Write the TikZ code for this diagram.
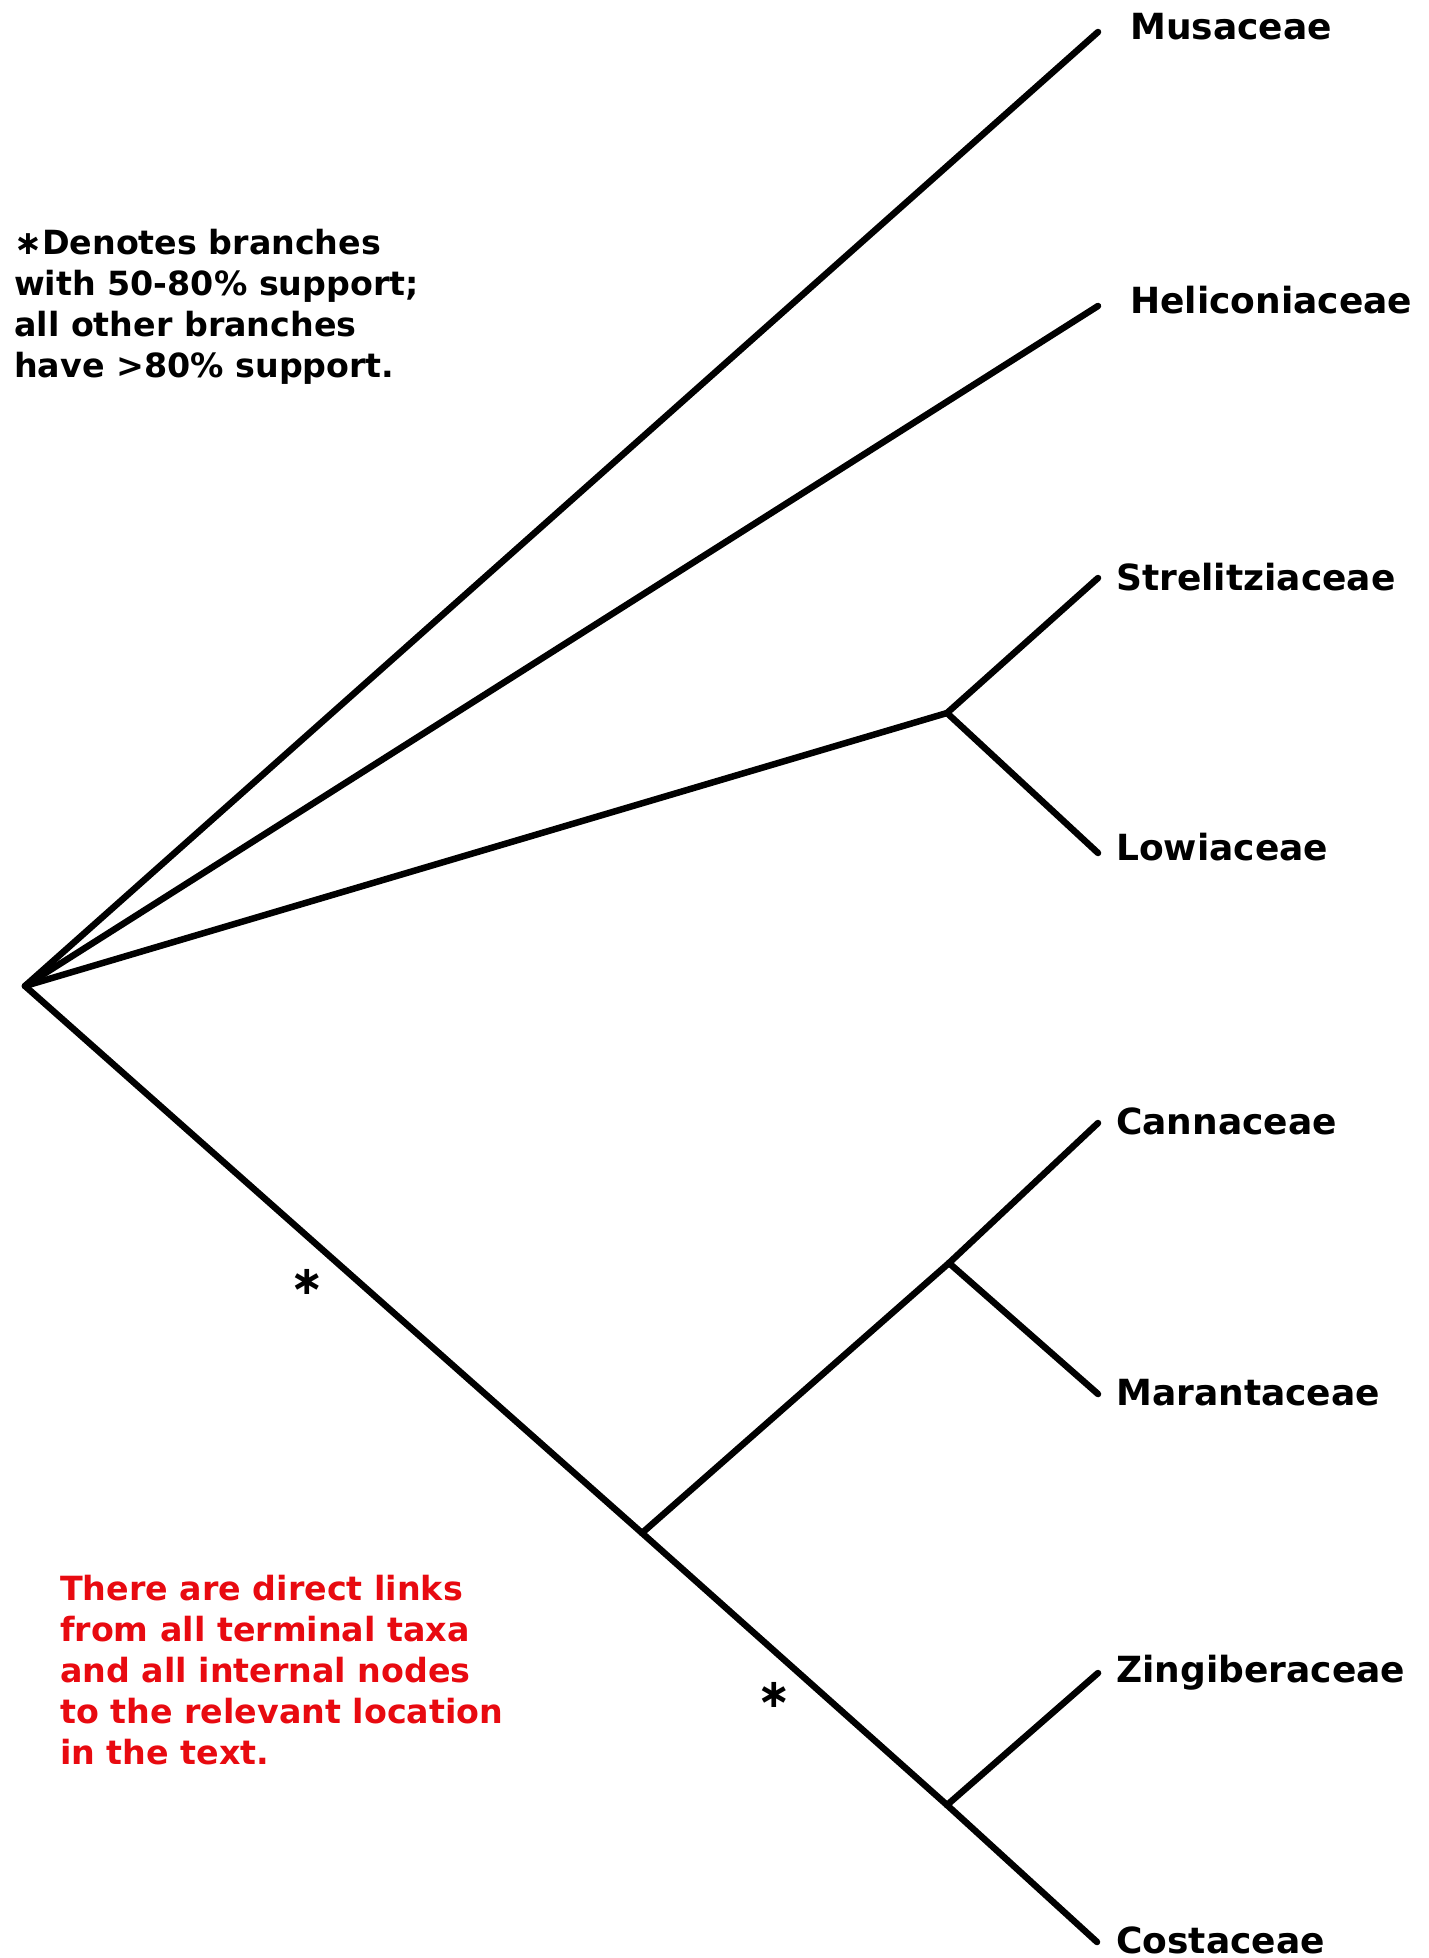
\documentclass[tikz,border=0pt]{standalone}
\usepackage{fontspec}
\setmainfont{DejaVu Sans}
\definecolor{notered}{RGB}{232,10,16}
\begin{document}
\begin{tikzpicture}[x=1pt,y=-1pt,
  branch/.style={line width=6.5pt,line cap=round,line join=round},
  taxon/.style={anchor=base west,inner sep=0pt,font=\bfseries\fontsize{36}{41}\selectfont},
  note/.style={anchor=north west,inner sep=0pt,align=left,font=\bfseries\fontsize{33.3}{41}\selectfont},
  star/.style={inner sep=0pt,font=\bfseries\fontsize{40}{40}\selectfont}]
\useasboundingbox[fill=white] (0,0) rectangle (1428,1958);
% internal nodes
\coordinate (root) at (25,986);
\coordinate (sl) at (947,713);
\coordinate (cmzc) at (642,1533);
\coordinate (cm) at (949,1263);
\coordinate (zc) at (947,1805);
% tips
\coordinate (tmus) at (1098,32);
\coordinate (thel) at (1098,306);
\coordinate (tstr) at (1098,578);
\coordinate (tlow) at (1098,853);
\coordinate (tcan) at (1098,1123);
\coordinate (tmar) at (1098,1394);
\coordinate (tzin) at (1098,1673);
\coordinate (tcos) at (1097,1942);
% branches
\draw[branch] (root) -- (tmus);
\draw[branch] (root) -- (thel);
\draw[branch] (root) -- (sl);
\draw[branch] (sl) -- (tstr);
\draw[branch] (sl) -- (tlow);
\draw[branch] (root) -- (cmzc);
\draw[branch] (cmzc) -- (cm);
\draw[branch] (cm) -- (tcan);
\draw[branch] (cm) -- (tmar);
\draw[branch] (cmzc) -- (zc);
\draw[branch] (zc) -- (tzin);
\draw[branch] (zc) -- (tcos);
% labels
\node[taxon] (lmus) at (1130,40) {Musaceae};
\node[taxon] (lhel) at (1130,314) {Heliconiaceae};
\node[taxon] (lstr) at (1116,590) {Strelitziaceae};
\node[taxon] (llow) at (1116,860) {Lowiaceae};
\node[taxon] (lcan) at (1116,1134) {Cannaceae};
\node[taxon] (lmar) at (1116,1405) {Marantaceae};
\node[taxon] (lzin) at (1116,1682) {Zingiberaceae};
\node[taxon] (lcos) at (1116,1953) {Costaceae};
% support stars
\node[star] (s1) at (307,1282) {∗};
\node[star] (s2) at (774,1695) {∗};
% notes
\node[note] (legend) at (14,229) {∗Denotes branches\\with 50-80\% support;\\all other branches\\have >80\% support.};
\node[note,text=notered] (links) at (60,1575) {There are direct links\\from all terminal taxa\\and all internal nodes\\to the relevant location\\in the text.};
\end{tikzpicture}
\end{document}
